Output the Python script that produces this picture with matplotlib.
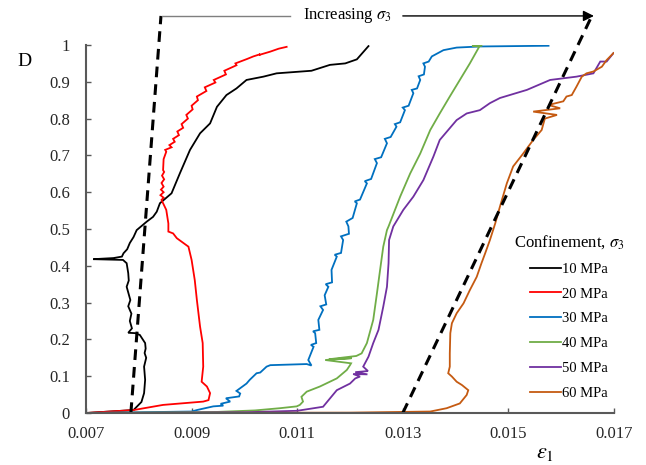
import matplotlib
matplotlib.use("Agg")
import matplotlib.pyplot as plt
from matplotlib.lines import Line2D

plt.rcParams['font.family'] = ['Liberation Serif', 'DejaVu Serif']
plt.rcParams['mathtext.fontset'] = 'stix'

# ---- data: axial strain (eps1) vs damage D for each confinement ----
labels = ['10 MPa', '20 MPa', '30 MPa', '40 MPa', '50 MPa', '60 MPa']
colors = ['#000000', '#FF0000', '#0070C0', '#70AD47', '#7030A0', '#C55A11']

eps_10 = [0.00700, 0.00790, 0.00805, 0.00810, 0.00812, 0.00810, 0.00814, 0.00811, 0.00813, 0.00812,
          0.00802, 0.00793, 0.00780, 0.00787, 0.00783, 0.00786, 0.00780, 0.00784, 0.00777, 0.00781,
          0.00780, 0.00777, 0.00770, 0.00714, 0.00752, 0.00768, 0.00771, 0.00778, 0.00783, 0.00790,
          0.00796, 0.00815, 0.00827, 0.00834, 0.00840, 0.00862, 0.00878, 0.00897, 0.00916, 0.00935,
          0.00948, 0.00966, 0.00985, 0.01004, 0.01036, 0.01061, 0.01127, 0.01162, 0.01191, 0.01213,
          0.01235]
D_10 = [0.000, 0.008, 0.030, 0.054, 0.090, 0.126, 0.150, 0.163, 0.175, 0.190,
        0.212, 0.217, 0.218, 0.230, 0.250, 0.270, 0.290, 0.307, 0.343, 0.360,
        0.380, 0.407, 0.416, 0.418, 0.421, 0.425, 0.434, 0.445, 0.462, 0.478,
        0.497, 0.520, 0.533, 0.547, 0.570, 0.597, 0.652, 0.715, 0.760, 0.787,
        0.832, 0.864, 0.882, 0.905, 0.914, 0.923, 0.930, 0.946, 0.950, 0.961,
        0.997]

eps_20 = [0.00700, 0.00790, 0.00846, 0.00922, 0.00932, 0.00935, 0.00929, 0.00919, 0.00922, 0.00921,
          0.00916, 0.00910, 0.00906, 0.00900, 0.00894, 0.00872, 0.00865, 0.00856, 0.00856, 0.00852,
          0.00843, 0.00847, 0.00841, 0.00847, 0.00842, 0.00847, 0.00843, 0.00848, 0.00844, 0.00848,
          0.00846, 0.00847, 0.00852, 0.00850, 0.00862, 0.00858, 0.00868, 0.00865, 0.00876, 0.00873,
          0.00884, 0.00881, 0.00893, 0.00890, 0.00902, 0.00900, 0.00912, 0.00910, 0.00928, 0.00925,
          0.00945, 0.00942, 0.00965, 0.00962, 0.00985, 0.00983, 0.01005, 0.01017, 0.01030, 0.01028,
          0.01049, 0.01065, 0.01080]
D_20 = [0.000, 0.008, 0.022, 0.031, 0.035, 0.054, 0.072, 0.085, 0.126, 0.190,
        0.235, 0.307, 0.361, 0.416, 0.452, 0.475, 0.488, 0.493, 0.515, 0.552,
        0.579, 0.585, 0.592, 0.600, 0.607, 0.615, 0.625, 0.635, 0.645, 0.655,
        0.660, 0.690, 0.710, 0.715, 0.722, 0.728, 0.737, 0.745, 0.755, 0.765,
        0.775, 0.785, 0.800, 0.810, 0.825, 0.835, 0.850, 0.860, 0.875, 0.885,
        0.898, 0.905, 0.920, 0.930, 0.945, 0.950, 0.962, 0.969, 0.975, 0.973,
        0.982, 0.990, 0.995]

eps_30 = [0.00700, 0.00900, 0.00910, 0.00941, 0.00960, 0.00955, 0.00973, 0.00965, 0.00990, 0.00992,
          0.00985, 0.01004, 0.01010, 0.01023, 0.01030, 0.01042, 0.01049, 0.01118, 0.01127, 0.01121,
          0.01131, 0.01126, 0.01136, 0.01134, 0.01130, 0.01142, 0.01140, 0.01149, 0.01144, 0.01155,
          0.01152, 0.01159, 0.01154, 0.01166, 0.01165, 0.01175, 0.01171, 0.01183, 0.01187, 0.01183,
          0.01198, 0.01197, 0.01193, 0.01205, 0.01213, 0.01209, 0.01219, 0.01232, 0.01228, 0.01240,
          0.01251, 0.01247, 0.01259, 0.01270, 0.01266, 0.01277, 0.01288, 0.01285, 0.01295, 0.01304,
          0.01300, 0.01311, 0.01320, 0.01317, 0.01327, 0.01333, 0.01330, 0.01340, 0.01342, 0.01339,
          0.01349, 0.01355, 0.01377, 0.01402, 0.01446, 0.01576]
D_30 = [0.000, 0.004, 0.008, 0.018, 0.020, 0.025, 0.031, 0.040, 0.045, 0.053,
        0.060, 0.080, 0.090, 0.108, 0.110, 0.126, 0.130, 0.133, 0.129, 0.144,
        0.180, 0.185, 0.190, 0.217, 0.222, 0.226, 0.253, 0.280, 0.290, 0.295,
        0.320, 0.343, 0.350, 0.355, 0.389, 0.425, 0.430, 0.435, 0.470, 0.480,
        0.487, 0.507, 0.520, 0.530, 0.570, 0.575, 0.580, 0.624, 0.630, 0.636,
        0.679, 0.690, 0.695, 0.733, 0.745, 0.750, 0.778, 0.785, 0.790, 0.823,
        0.830, 0.835, 0.869, 0.878, 0.882, 0.905, 0.915, 0.920, 0.941, 0.950,
        0.955, 0.969, 0.986, 0.993, 0.996, 0.998]

eps_40 = [0.00700, 0.00950, 0.01020, 0.01067, 0.01099, 0.01105, 0.01111, 0.01108, 0.01118, 0.01143,
          0.01175, 0.01194, 0.01200, 0.01202, 0.01153, 0.01203, 0.01160, 0.01212, 0.01222, 0.01232,
          0.01244, 0.01251, 0.01257, 0.01263, 0.01270, 0.01273, 0.01295, 0.01314, 0.01333, 0.01352,
          0.01370, 0.01389, 0.01408, 0.01427, 0.01445, 0.01431, 0.01449]
D_40 = [0.000, 0.003, 0.007, 0.013, 0.018, 0.022, 0.031, 0.044, 0.058, 0.072,
        0.094, 0.117, 0.130, 0.135, 0.144, 0.149, 0.146, 0.155, 0.162, 0.190,
        0.253, 0.325, 0.389, 0.452, 0.497, 0.507, 0.588, 0.651, 0.705, 0.769,
        0.814, 0.860, 0.905, 0.950, 0.996, 0.998, 0.998]

eps_50 = [0.00700, 0.01000, 0.01100, 0.01149, 0.01175, 0.01200, 0.01210, 0.01219, 0.01206, 0.01233,
          0.01210, 0.01234, 0.01225, 0.01235, 0.01244, 0.01254, 0.01263, 0.01270, 0.01273, 0.01274,
          0.01282, 0.01301, 0.01320, 0.01339, 0.01358, 0.01370, 0.01386, 0.01402, 0.01421, 0.01446,
          0.01465, 0.01484, 0.01535, 0.01579, 0.01629, 0.01661, 0.01674, 0.01686, 0.01699]
D_50 = [0.000, 0.002, 0.006, 0.017, 0.062, 0.080, 0.094, 0.099, 0.106, 0.105,
        0.111, 0.114, 0.126, 0.153, 0.190, 0.226, 0.289, 0.343, 0.407, 0.470,
        0.507, 0.552, 0.588, 0.633, 0.697, 0.742, 0.769, 0.796, 0.814, 0.823,
        0.842, 0.856, 0.878, 0.905, 0.914, 0.923, 0.955, 0.955, 0.978]

eps_60 = [0.00700, 0.01200, 0.01352, 0.01383, 0.01408, 0.01421, 0.01424, 0.01412, 0.01402, 0.01393,
          0.01386, 0.01389, 0.01389, 0.01390, 0.01393, 0.01402, 0.01415, 0.01427, 0.01440, 0.01449,
          0.01456, 0.01465, 0.01475, 0.01484, 0.01497, 0.01509, 0.01528, 0.01547, 0.01563, 0.01569,
          0.01592, 0.01547, 0.01598, 0.01576, 0.01604, 0.01610, 0.01620, 0.01629, 0.01639, 0.01648,
          0.01661, 0.01677, 0.01686, 0.01699]
D_60 = [0.000, 0.001, 0.004, 0.013, 0.026, 0.049, 0.062, 0.076, 0.085, 0.099,
        0.108, 0.126, 0.162, 0.217, 0.244, 0.271, 0.298, 0.334, 0.370, 0.407,
        0.434, 0.470, 0.515, 0.561, 0.624, 0.670, 0.705, 0.742, 0.769, 0.800,
        0.810, 0.819, 0.828, 0.837, 0.847, 0.860, 0.864, 0.887, 0.914, 0.923,
        0.928, 0.941, 0.959, 0.978]

series_eps = [eps_10, eps_20, eps_30, eps_40, eps_50, eps_60]
series_D = [D_10, D_20, D_30, D_40, D_50, D_60]

# trend guides (dashed) and the annotation arrow
guide_low_eps = [0.00785, 0.00842]
guide_high_eps = [0.01300, 0.01658]
guide_D = [0.0, 1.079]

x_ticks = [0.007, 0.009, 0.011, 0.013, 0.015, 0.017]
x_ticklabels = ['0.007', '0.009', '0.011', '0.013', '0.015', '0.017']
y_ticks = [0, 0.1, 0.2, 0.3, 0.4, 0.5, 0.6, 0.7, 0.8, 0.9, 1.0]
y_ticklabels = ['0', '0.1', '0.2', '0.3', '0.4', '0.5', '0.6', '0.7', '0.8', '0.9', '1']

fig = plt.figure(figsize=(6.46, 4.65), dpi=100)
ax = fig.add_axes([86 / 646, 1 - 413 / 465, 528 / 646, 368 / 465])

for e, d, c in zip(series_eps, series_D, colors):
    ax.plot(e, d, color=c, lw=1.3, solid_joinstyle='miter')

ax.plot(guide_low_eps, guide_D, color='black', lw=2.2, dashes=(3.5, 2.3), clip_on=False)
ax.plot(guide_high_eps, guide_D, color='black', lw=2.2, dashes=(3.5, 2.3), clip_on=False)

ax.plot([0.00844, 0.01086], [1.079, 1.079], color='#7f7f7f', lw=1.0, clip_on=False)
ax.annotate('', xy=(0.01662, 1.079), xytext=(0.01300, 1.079),
            arrowprops=dict(arrowstyle='-|>', color='black', lw=1.0, mutation_scale=16,
                            shrinkA=0, shrinkB=0),
            annotation_clip=False)
ax.text(0.01195, 1.081, r'Increasing $\sigma_3$', ha='center', va='center', fontsize=12)

ax.set_xlim(0.007, 0.017)
ax.set_ylim(0, 1)
ax.set_xticks(x_ticks)
ax.set_xticklabels(x_ticklabels)
ax.set_yticks(y_ticks)
ax.set_yticklabels(y_ticklabels)
ax.tick_params(direction='in', length=3.5, width=1.0, color='#595959',
               labelsize=12, labelcolor='#262626')
ax.tick_params(axis='x', pad=9)
ax.tick_params(axis='y', pad=11.5)
for s in ['top', 'right']:
    ax.spines[s].set_visible(False)
for s in ['left', 'bottom']:
    ax.spines[s].set_color('#595959')
    ax.spines[s].set_linewidth(1.5)

fig.text(24.5 / 646, 1 - 61.5 / 465, 'D', ha='center', va='center', fontsize=14)
fig.text(545 / 646, 1 - 453 / 465, r'$\varepsilon_1$', ha='center', va='center', fontsize=16)

handles = [Line2D([], [], color=c, lw=1.3) for c in colors]
leg = ax.legend(handles, labels, title=r'Confinement, $\sigma_3$', frameon=False,
                loc='upper left', bbox_to_anchor=(514 / 646, 1 - 233 / 465),
                bbox_transform=fig.transFigure,
                fontsize=10.5, title_fontsize=12, handlelength=2.1, handletextpad=0.1,
                labelspacing=0.8, borderpad=0, borderaxespad=0)

fig.savefig('out.png', dpi=100)
